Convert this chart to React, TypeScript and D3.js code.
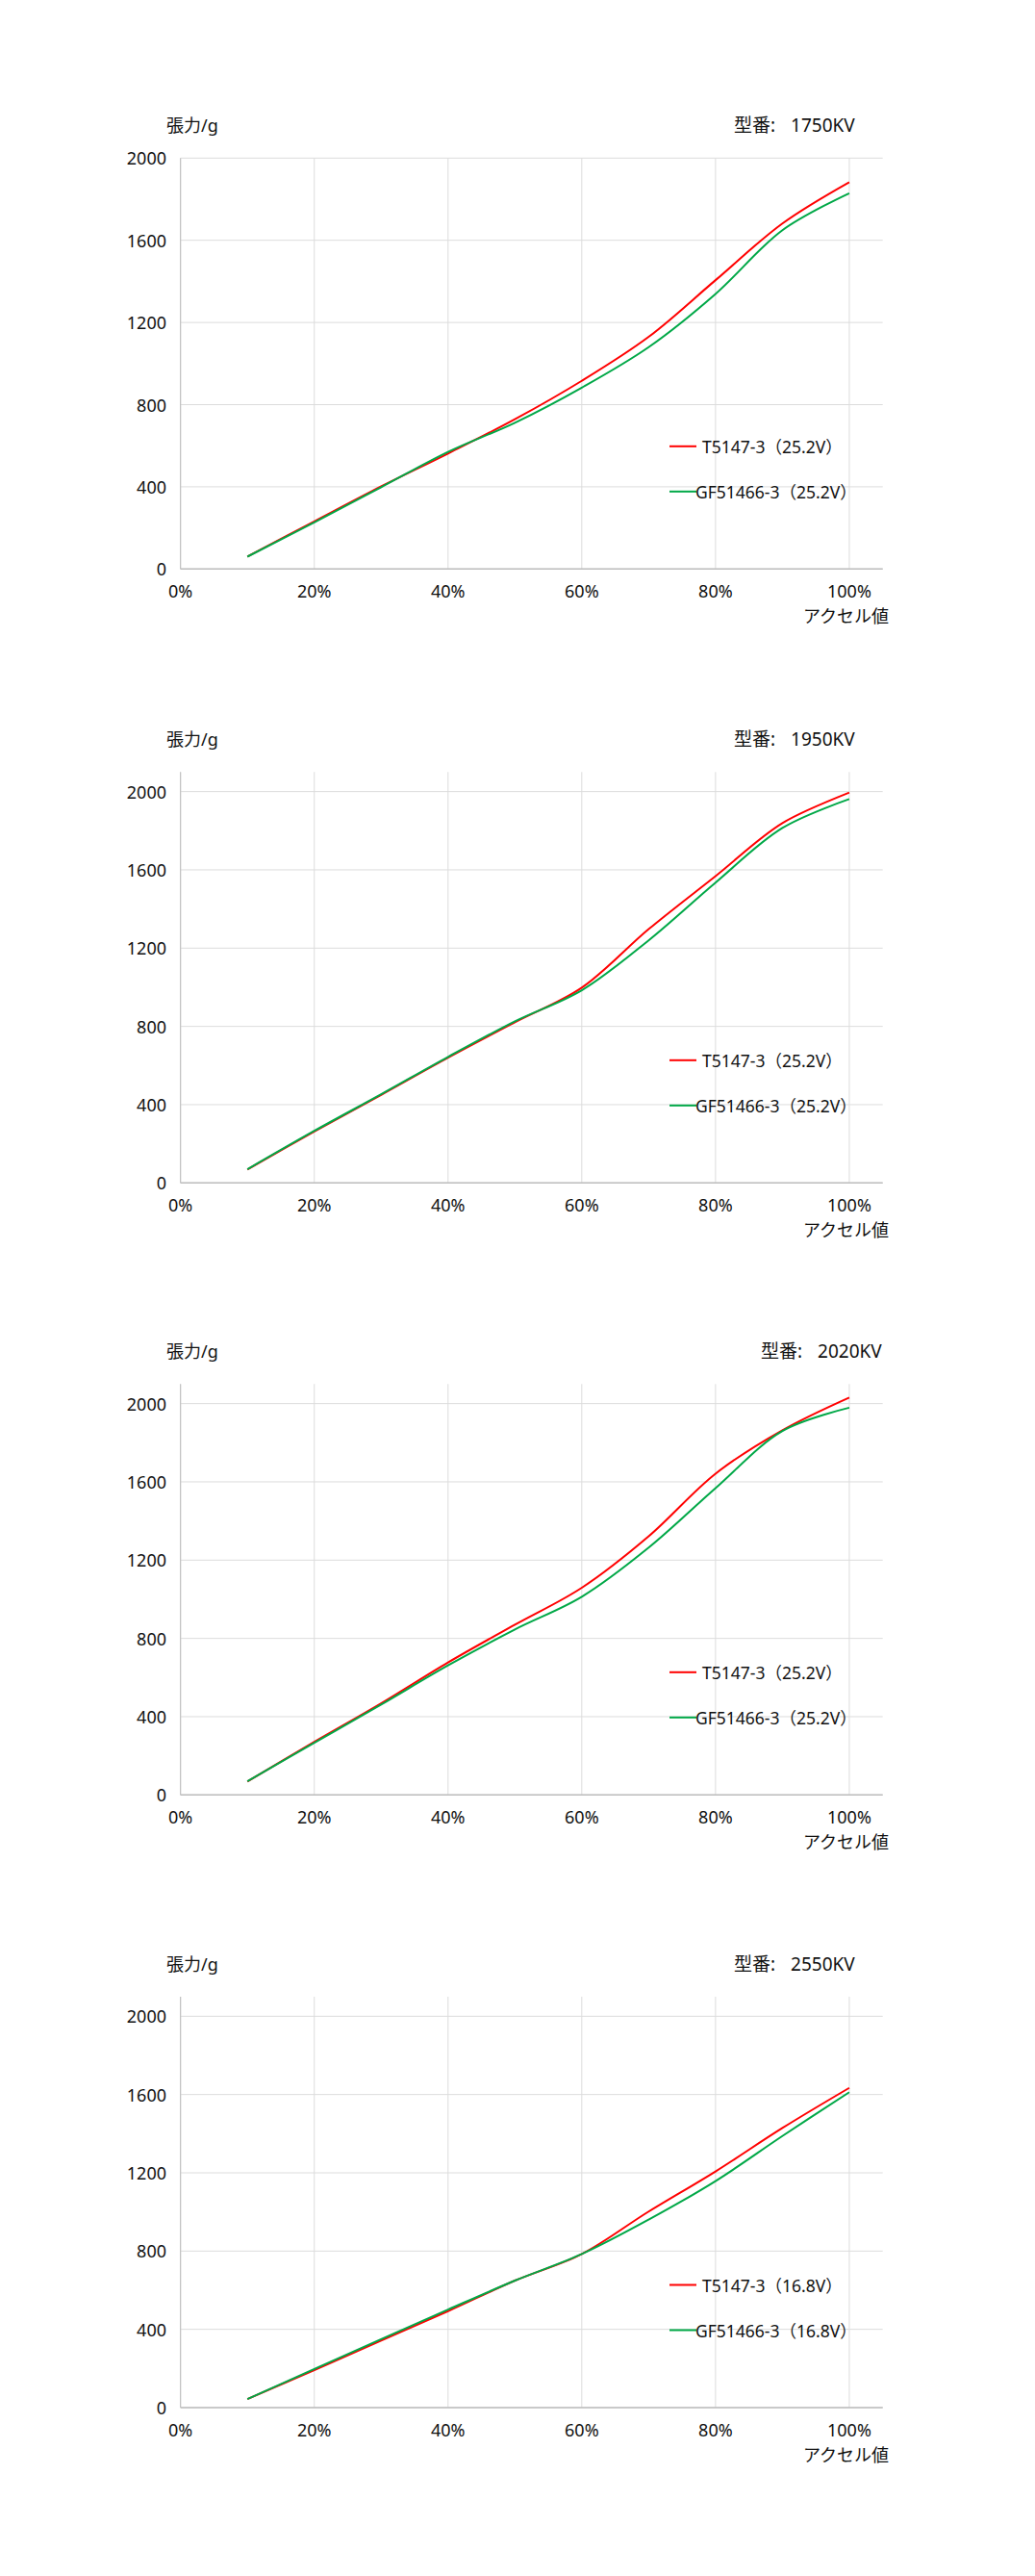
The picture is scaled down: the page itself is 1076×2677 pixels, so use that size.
import * as React from 'react';
import * as d3 from 'd3';

// throttle positions (%)
const throttle = [10, 20, 30, 40, 50, 60, 70, 80, 90, 100];

const models = ['1750KV', '1950KV', '2020KV', '2550KV'];
const voltages = ['25.2V', '25.2V', '25.2V', '16.8V'];
const yMaxes = [2000, 2100, 2100, 2100];

// thrust in grams, T5147-3
const t5147_1750 = [60, 232, 402, 562, 729, 916, 1130, 1406, 1682, 1883];
const t5147_1950 = [69, 263, 450, 640, 821, 998, 1297, 1568, 1839, 1995];
const t5147_2020 = [69, 271, 468, 677, 870, 1059, 1322, 1642, 1864, 2031];
const t5147_2550 = [44, 192, 343, 493, 649, 785, 1002, 1207, 1429, 1634];

// thrust in grams, GF51466-3
const gf51466_1750 = [60, 227, 398, 570, 712, 883, 1080, 1339, 1649, 1829];
const gf51466_1950 = [70, 266, 453, 644, 826, 985, 1240, 1535, 1814, 1962];
const gf51466_2020 = [70, 266, 462, 662, 846, 1013, 1264, 1568, 1860, 1979];
const gf51466_2550 = [44, 197, 350, 501, 649, 785, 961, 1158, 1388, 1612];

const redSeries = [t5147_1750, t5147_1950, t5147_2020, t5147_2550];
const greenSeries = [gf51466_1750, gf51466_1950, gf51466_2020, gf51466_2550];

const yTicks = [0, 400, 800, 1200, 1600, 2000];
const xTicks = [0, 20, 40, 60, 80, 100];

const chartTops = [164.3, 802.3, 1438.3, 2075];
const titleX = [763, 763, 791, 763];

const font = '"Noto Sans", "Noto Sans CJK JP", sans-serif';
const RED = '#ff0000';
const GREEN = '#00a847';

const left = 187.7;
const plotW = 730;
const plotH = 427;

const Chart: React.FC<{ i: number }> = ({ i }) => {
  const top = chartTops[i];
  const bottom = top + plotH;
  const x = d3.scaleLinear().domain([0, 105]).range([left, left + plotW]);
  const y = d3.scaleLinear().domain([0, yMaxes[i]]).range([bottom, top]);
  const line = d3
    .line<number>()
    .x((_, k) => x(throttle[k]))
    .y((d) => y(d))
    .curve(d3.curveCatmullRom.alpha(0.5));

  return (
    <g fontFamily={font} fill="#111">
      <text x={173} y={top - 27} fontSize={18}>張力/g</text>
      <text x={titleX[i]} y={top - 27} fontSize={19}>
        型番:<tspan dx={16}>{models[i]}</tspan>
      </text>

      {yTicks.map((t) => (
        <line key={'h' + t} x1={left} x2={left + plotW} y1={y(t)} y2={y(t)} stroke="#dcdcdc" strokeWidth={1} />
      ))}
      {xTicks.map((t) => (
        <line key={'v' + t} x1={x(t)} x2={x(t)} y1={top} y2={bottom} stroke="#dcdcdc" strokeWidth={1} />
      ))}
      <line x1={left} x2={left} y1={top} y2={bottom} stroke="#bdbdbd" strokeWidth={1} />
      <line x1={left} x2={left + plotW} y1={bottom} y2={bottom} stroke="#bdbdbd" strokeWidth={1.5} />

      {yTicks.map((t) => (
        <text key={'yl' + t} x={173} y={y(t)} fontSize={18} textAnchor="end" dominantBaseline="central">
          {t}
        </text>
      ))}
      {xTicks.map((t) => (
        <text key={'xl' + t} x={x(t)} y={bottom + 30} fontSize={18} textAnchor="middle">
          {t}%
        </text>
      ))}
      <text x={924} y={bottom + 56} fontSize={18} textAnchor="end">アクセル値</text>

      <path d={line(redSeries[i]) || ''} fill="none" stroke={RED} strokeWidth={2} />
      <path d={line(greenSeries[i]) || ''} fill="none" stroke={GREEN} strokeWidth={2} />

      <line x1={696} x2={724} y1={top + 299.5} y2={top + 299.5} stroke={RED} strokeWidth={2} />
      <text x={730} y={top + 299.5} fontSize={17.5} dominantBaseline="central">
        T5147-3（{voltages[i]}）
      </text>
      <line x1={696} x2={724} y1={top + 346.5} y2={top + 346.5} stroke={GREEN} strokeWidth={2} />
      <text x={723} y={top + 346.5} fontSize={17.5} dominantBaseline="central">
        GF51466-3（{voltages[i]}）
      </text>
    </g>
  );
};

export default function App() {
  return (
    <svg
      width={1076}
      height={2677}
      style={{ position: 'absolute', left: 0, top: 0, background: '#fff' }}
    >
      {models.map((_, i) => (
        <Chart key={i} i={i} />
      ))}
    </svg>
  );
}
